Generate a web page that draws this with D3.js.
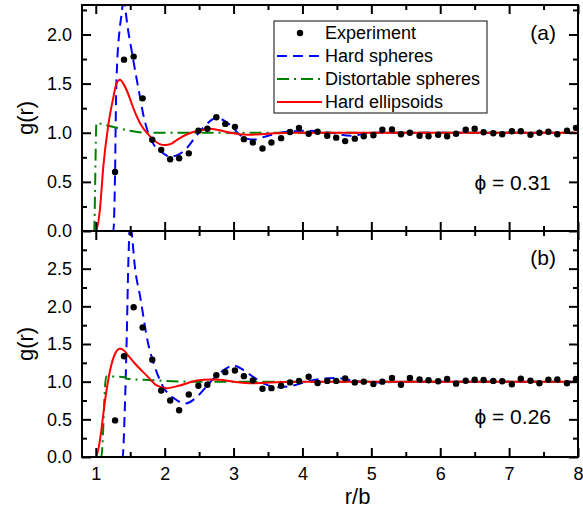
<!DOCTYPE html>
<html>
<head>
<meta charset="utf-8">
<script src="https://cdn.jsdelivr.net/npm/d3@7"></script>
<style>
  body { margin: 0; background: #fff; }
  svg { font-family: 'Liberation Sans', Arial, sans-serif; }
</style>
</head>
<body>
<svg id="chart" width="583" height="510"></svg>
<script>
// experimental r/b grid (same for both panels)
const expR = [1.28, 1.41, 1.55, 1.68, 1.82, 1.95, 2.08, 2.21, 2.35, 2.49, 2.62, 2.75, 2.88, 3.02, 3.15, 3.28, 3.42, 3.55, 3.69, 3.82, 3.95,
  4.09, 4.22, 4.36, 4.49, 4.62, 4.76, 4.89, 5.03, 5.16, 5.30, 5.43, 5.56, 5.70, 5.83, 5.97, 6.10, 6.23, 6.37, 6.50, 6.63, 6.77, 6.90,
  7.04, 7.17, 7.31, 7.44, 7.57, 7.70, 7.84, 7.97]

const expA = [0.60, 1.744, 1.775, 1.35, 0.928, 0.826, 0.73, 0.74, 0.79, 1.02, 1.04, 1.157, 1.09, 1.06, 0.935, 0.90, 0.84, 0.90, 0.945, 1.007, 1.05,
  0.99, 1.01, 0.97, 0.95, 0.915, 0.94, 0.965, 0.975, 1.03, 1.034, 0.985, 1.0, 0.97, 0.965, 0.98, 0.965, 0.99, 1.03, 1.04, 1.005, 0.995, 0.985,
  1.015, 1.015, 0.98, 1.0, 1.01, 0.985, 1.02, 1.05]

const expB = [0.486, 1.338, 1.987, 1.72, 1.29, 0.883, 0.75, 0.62, 0.83, 0.945, 0.96, 1.086, 1.126, 1.148, 1.073, 1.016, 0.906, 0.914, 0.945, 0.99, 1.008,
  1.066, 0.982, 1.01, 1.01, 1.044, 0.99, 1.0, 0.97, 1.0, 1.05, 0.96, 1.05, 1.03, 1.018, 1.005, 1.035, 0.974, 1.013, 1.026, 1.022, 1.01, 1.005,
  0.965, 1.04, 1.013, 0.978, 1.026, 1.03, 0.978, 1.035]

// model curves, [r/b, g(r)]
const hardSpheresA = [[1.22, 0], [1.255, 0], [1.28, 0.6], [1.294, 1.34], [1.313, 1.745], [1.342, 2.02], [1.377, 2.22], [1.41, 2.4], [1.44, 2.2],
  [1.536, 1.775], [1.64, 1.37], [1.70, 1.15], [1.76, 1.0], [1.86, 0.86], [1.98, 0.79], [2.078, 0.757], [2.175, 0.77], [2.32, 0.843], [2.45, 0.96],
  [2.56, 1.05], [2.75, 1.15], [2.95, 1.08], [3.09, 0.98], [3.28, 0.93], [3.48, 0.965], [3.77, 1.01], [4.05, 1.02], [4.4, 1.0], [4.7, 0.97],
  [5.0, 1.0], [8, 1.0]]
const distortableA = [[0.95, 0], [0.975, 0], [1.01, 1.10], [1.13, 1.08], [1.26, 1.058], [1.5, 1.02], [1.74, 1.0], [8, 1.0]]
const ellipsoidsA = [[0.8, 0], [1.003, 0], [1.06, 0.22], [1.11, 0.66], [1.18, 1.07], [1.255, 1.36], [1.30, 1.50], [1.352, 1.54], [1.40, 1.50],
  [1.45, 1.43], [1.50, 1.34], [1.545, 1.25], [1.64, 1.10], [1.79, 0.96], [1.93, 0.884], [2.0, 0.874], [2.1, 0.89], [2.18, 0.928], [2.37, 0.997],
  [2.56, 1.03], [2.65, 1.04], [2.8, 1.025], [2.95, 1.0], [3.2, 0.98], [3.5, 0.99], [3.85, 1.0], [8, 1.0]]

const hardSpheresB = [[1.36, 0], [1.39, 0], [1.42, 0.6], [1.449, 1.57], [1.473, 2.59], [1.50, 3.1], [1.53, 2.9], [1.56, 2.59], [1.65, 2.1],
  [1.75, 1.55], [1.86, 1.19], [1.98, 0.93], [2.15, 0.77], [2.3, 0.71], [2.47, 0.8], [2.6, 0.93], [2.71, 1.04], [2.85, 1.15], [3.0, 1.215],
  [3.15, 1.15], [3.29, 1.06], [3.45, 0.97], [3.63, 0.927], [3.87, 0.95], [4.1, 1.01], [4.5, 1.05], [4.75, 1.01], [5.1, 0.99], [5.5, 1.0], [8, 1.0]]
const distortableB = [[1.05, 0], [1.08, 0], [1.15, 1.07], [1.43, 1.06], [1.45, 1.04], [1.8, 1.02], [2.4, 1.0], [8, 1.0]]
const ellipsoidsB = [[0.8, 0], [1.003, 0], [1.06, 0.22], [1.134, 0.75], [1.207, 1.148], [1.28, 1.37], [1.35, 1.436], [1.40, 1.42], [1.449, 1.37],
  [1.594, 1.215], [1.74, 1.08], [1.885, 0.95], [2.03, 0.914], [2.22, 0.95], [2.47, 1.016], [2.66, 1.03], [2.8, 1.025], [3.0, 1.0], [3.3, 0.98],
  [3.7, 0.995], [4.0, 1.0], [8, 1.0]]

const xTicks = [1, 2, 3, 4, 5, 6, 7, 8]
const yTicksA = [0, 0.5, 1.0, 1.5, 2.0]
const yTicksB = [0, 0.5, 1.0, 1.5, 2.0, 2.5]
const legendNames = ['Experiment', 'Hard spheres', 'Distortable spheres', 'Hard ellipsoids']

const margin = { left: 82, right: 5 }
const W = 583 - margin.left - margin.right
const panels = [
  { id: 'a', top: 5, h: 226, ymax: 2.3, yTicks: yTicksA, exp: expA, hs: hardSpheresA, ds: distortableA, he: ellipsoidsA, phi: '0.31', xLabels: false },
  { id: 'b', top: 231, h: 226, ymax: 3.0, yTicks: yTicksB, exp: expB, hs: hardSpheresB, ds: distortableB, he: ellipsoidsB, phi: '0.26', xLabels: true }
]

const styles = {
  hs: { color: '#0000ff', dash: '10,6' },
  ds: { color: '#008000', dash: '12,5,2,5' },
  he: { color: '#ff0000', dash: null }
}

const svg = d3.select('#chart')
const x = d3.scaleLinear().domain([0.8, 8]).range([0, W])
const xMinor = d3.range(1, 8, 0.5).filter((v) => v % 1 !== 0)

panels.forEach((p) => {
  const g = svg.append('g').attr('transform', `translate(${margin.left},${p.top})`)
  const y = d3.scaleLinear().domain([0, p.ymax]).range([p.h, 0])
  const yMinor = d3.range(0.25, p.ymax, 0.5)

  g.append('clipPath').attr('id', 'clip-' + p.id)
    .append('rect').attr('x', 0).attr('y', 0).attr('width', W).attr('height', p.h + 1.5)

  const plot = g.append('g').attr('clip-path', `url(#clip-${p.id})`)
  const line = d3.line().x((d) => x(d[0])).y((d) => y(d[1])).curve(d3.curveMonotoneX)

  ;['hs', 'ds', 'he'].forEach((k) => {
    plot.append('path')
      .datum(p[k])
      .attr('d', line)
      .attr('fill', 'none')
      .attr('stroke', styles[k].color)
      .attr('stroke-width', 2)
      .attr('stroke-dasharray', styles[k].dash)
  })

  plot.selectAll('.dot')
    .data(expR.map((r, i) => [r, p.exp[i]]))
    .enter().append('circle')
    .attr('class', 'dot')
    .attr('cx', (d) => x(d[0]))
    .attr('cy', (d) => y(d[1]))
    .attr('r', 3.2)
    .attr('fill', 'black')

  // axes, ticks pointing inward on all four sides
  const fmt = d3.format('.1f')
  const axes = [
    [d3.axisLeft(y).tickValues(p.yTicks).tickSize(-9).tickPadding(10).tickFormat(fmt), 0, 0],
    [d3.axisLeft(y).tickValues(yMinor).tickSize(-5).tickFormat(''), 0, 0],
    [d3.axisRight(y).tickValues(p.yTicks).tickSize(-9).tickFormat(''), W, 0],
    [d3.axisRight(y).tickValues(yMinor).tickSize(-5).tickFormat(''), W, 0],
    [d3.axisTop(x).tickValues(xTicks).tickSize(-9).tickFormat(''), 0, 0],
    [d3.axisTop(x).tickValues(xMinor).tickSize(-5).tickFormat(''), 0, 0],
    [d3.axisBottom(x).tickValues(xTicks).tickSize(-9).tickPadding(10).tickFormat(p.xLabels ? d3.format('d') : ''), 0, p.h],
    [d3.axisBottom(x).tickValues(xMinor).tickSize(-5).tickFormat(''), 0, p.h]
  ]
  axes.forEach(([ax, tx, ty]) => {
    const a = g.append('g').attr('transform', `translate(${tx},${ty})`).call(ax)
    a.select('.domain').remove()
    a.selectAll('line').attr('stroke', 'black').attr('stroke-width', 2)
    a.selectAll('text').attr('font-size', 18).attr('fill', 'black').attr('font-family', null)
  })

  g.append('rect')
    .attr('width', W).attr('height', p.h)
    .attr('fill', 'none').attr('stroke', 'black').attr('stroke-width', 2)

  g.append('text')
    .attr('transform', `translate(${25 - margin.left},${p.h / 2}) rotate(-90)`)
    .attr('text-anchor', 'middle').attr('dy', '0.35em')
    .attr('font-size', 22)
    .text('g(r)')

  g.append('text')
    .attr('x', W - 22).attr('y', 35 - (p.id === 'b' ? 1 : 0))
    .attr('text-anchor', 'end').attr('font-size', 21)
    .text(`(${p.id})`)

  g.append('text')
    .attr('x', W - 27).attr('y', p.id === 'a' ? 185 : 193)
    .attr('text-anchor', 'end').attr('font-size', 21)
    .text(`\u03d5 = ${p.phi}`)

  if (p.id === 'a') {
    const lg = g.append('g').attr('transform', 'translate(192,16)')
    lg.append('rect').attr('width', 213).attr('height', 92)
      .attr('fill', 'white').attr('stroke', '#333').attr('stroke-width', 1.2)
    legendNames.forEach((name, i) => {
      const row = lg.append('g').attr('transform', `translate(0,${12 + i * 23})`)
      if (i === 0) {
        row.append('circle').attr('cx', 26).attr('cy', 0).attr('r', 3.2).attr('fill', 'black')
      } else {
        const s = styles[['hs', 'ds', 'he'][i - 1]]
        row.append('line').attr('x1', 3).attr('x2', 48).attr('y1', 0).attr('y2', 0)
          .attr('stroke', s.color).attr('stroke-width', 2).attr('stroke-dasharray', s.dash)
      }
      row.append('text').attr('x', 51).attr('dy', '0.35em').attr('font-size', 18).text(name)
    })
  }
})

svg.append('text')
  .attr('x', margin.left + x(4.8)).attr('y', 504)
  .attr('text-anchor', 'middle').attr('font-size', 22)
  .text('r/b')
</script>
</body>
</html>
